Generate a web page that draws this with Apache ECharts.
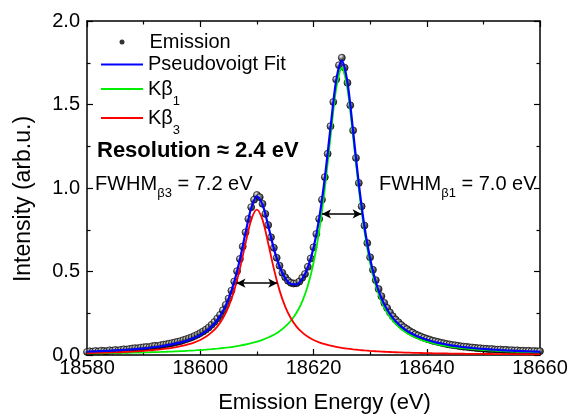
<!DOCTYPE html>
<html><head><meta charset="utf-8">
<script src="https://cdn.jsdelivr.net/npm/echarts@6/dist/echarts.min.js"></script>
<style>html,body{margin:0;padding:0;background:#fff}#chart{width:570px;height:415px}</style>
</head><body><div id="chart"></div>
<script>
// ---- data ----
const emissionStart = 18580, emissionStep = 0.5;
const emissionValues = [
  0.018,0.022,0.020,0.024,0.021,0.026,0.024,0.023,0.028,0.026,
  0.030,0.027,0.031,0.034,0.032,0.036,0.039,0.041,0.040,0.044,
  0.046,0.048,0.047,0.052,0.055,0.053,0.058,0.062,0.064,0.068,
  0.071,0.075,0.079,0.083,0.089,0.094,0.100,0.106,0.114,0.122,
  0.131,0.141,0.152,0.165,0.181,0.198,0.218,0.240,0.268,0.300,
  0.338,0.385,0.440,0.502,0.575,0.650,0.735,0.815,0.885,0.930,
  0.958,0.945,0.905,0.845,0.778,0.705,0.642,0.582,0.535,0.492,
  0.465,0.445,0.432,0.428,0.430,0.440,0.462,0.485,0.528,0.578,
  0.645,0.725,0.815,0.930,1.065,1.205,1.370,1.515,1.650,1.735,
  1.780,1.720,1.630,1.495,1.345,1.180,1.030,0.890,0.775,0.670,
  0.585,0.510,0.448,0.395,0.352,0.312,0.282,0.255,0.232,0.212,
  0.196,0.180,0.166,0.155,0.143,0.134,0.124,0.117,0.110,0.103,
  0.097,0.092,0.086,0.082,0.078,0.074,0.070,0.066,0.063,0.060,
  0.058,0.055,0.052,0.050,0.049,0.046,0.045,0.043,0.041,0.040,
  0.038,0.037,0.035,0.036,0.033,0.032,0.033,0.030,0.031,0.028,
  0.029,0.027,0.028,0.025,0.026,0.024,0.025,0.023,0.024,0.022,
  0.023
];
const curveStart = 18580, curveStep = 1;
const fitValues = [
  0.0204,0.0216,0.0229,0.0244,0.0259,0.0277,0.0296,0.0317,0.0341,0.0369,
  0.0399,0.0433,0.0473,0.0519,0.0572,0.0635,0.0708,0.0796,0.0903,0.1036,
  0.1198,0.1412,0.170,0.208,0.262,0.336,0.438,0.572,0.732,0.880,
  0.950,0.900,0.774,0.637,0.530,0.460,0.425,0.423,0.455,0.524,
  0.641,0.817,1.061,1.360,1.643,1.763,1.632,1.338,1.026,0.768,
  0.576,0.437,0.340,0.272,0.222,0.186,0.157,0.135,0.117,0.103,
  0.091,0.081,0.0727,0.0656,0.0595,0.0542,0.0496,0.0455,0.042,0.0388,
  0.0361,0.0336,0.0313,0.0292,0.0274,0.0258,0.0243,0.0229,0.0216,0.0204,
  0.0193
];
const kb1Values = [
  0.0093,0.0097,0.0102,0.0107,0.0112,0.0118,0.0124,0.0130,0.0137,0.0145,
  0.0153,0.0162,0.0172,0.0183,0.0195,0.0208,0.0222,0.0238,0.0256,0.0276,
  0.0298,0.0322,0.0350,0.0382,0.0418,0.0460,0.0508,0.0564,0.0629,0.0707,
  0.0799,0.0911,0.1046,0.1214,0.1425,0.170,0.205,0.253,0.320,0.415,
  0.551,0.741,0.996,1.304,1.594,1.720,1.594,1.304,0.996,0.741,
  0.551,0.415,0.320,0.253,0.205,0.170,0.1425,0.1214,0.1046,0.0911,
  0.0799,0.0707,0.0629,0.0564,0.0508,0.0460,0.0418,0.0382,0.0350,0.0322,
  0.0298,0.0276,0.0256,0.0238,0.0222,0.0208,0.0195,0.0183,0.0172,0.0162,
  0.0153
];
const kb3Values = [
  0.0111,0.0119,0.0127,0.0137,0.0147,0.0159,0.0172,0.0187,0.0204,0.0224,
  0.0246,0.0271,0.0301,0.0336,0.0377,0.0427,0.0486,0.0558,0.0647,0.076,
  0.090,0.109,0.135,0.170,0.220,0.290,0.387,0.516,0.669,0.809,
  0.870,0.809,0.669,0.516,0.387,0.290,0.220,0.170,0.135,0.109,
  0.090,0.076,0.0647,0.0558,0.0486,0.0427,0.0377,0.0336,0.0301,0.0271,
  0.0246,0.0224,0.0204,0.0187,0.0172,0.0159,0.0147,0.0137,0.0127,0.0119,
  0.0111,0.0104,0.0098,0.0092,0.0087,0.0082,0.0078,0.0073,0.0070,0.0066,
  0.0063,0.0060,0.0057,0.0054,0.0052,0.0050,0.0048,0.0046,0.0044,0.0042,
  0.0040
];
const fwhmCenters = [18610, 18625];
const fwhmWidths = [7.2, 7.0];
const fwhmHeights = [0.43, 0.845];
const seriesNames = ['Emission', 'Pseudovoigt Fit', 'Kβ1', 'Kβ3'];
const xRange = [18580, 18660], xInterval = 20;
const yRange = [0, 2], yInterval = 0.5;

// ---- chart ----
const FONT = '"Liberation Sans", Arial, Helvetica, sans-serif';
const emissionData = emissionValues.map((v, i) => [emissionStart + i * emissionStep, v]);
const toCurve = arr => arr.map((v, i) => [curveStart + i * curveStep, v]);

const chart = echarts.init(document.getElementById('chart'), null, {renderer: 'canvas'});

const axisLine = {show: true, onZero: false, lineStyle: {color: '#000', width: 1.5}};
const axisTick = {show: true, inside: true, length: 6, lineStyle: {color: '#000', width: 1.2}};
const minorTick = {show: true, splitNumber: 2, length: 3.5, lineStyle: {color: '#000', width: 1.2}};

function legendFormatter(name) {
  const m = name.match(/^(Kβ)(\d)$/);
  return m ? m[1] + '{sub|' + m[2] + '}' : name;
}
const legendTops = [32, 54.5, 79, 108];
const legends = seriesNames.map((n, i) => {
  const isDot = i === 0;
  return {
    data: [n],
    orient: 'vertical',
    left: isDot ? 119.5 : 101,
    top: legendTops[i],
    padding: 0,
    icon: isDot ? 'circle' : 'rect',
    itemWidth: isDot ? 5 : 42,
    itemHeight: isDot ? 5 : 2,
    selectedMode: false,
    formatter: legendFormatter,
    itemStyle: isDot ? {color: '#000', borderWidth: 0} : {borderWidth: 0},
    textStyle: {
      fontSize: 20, color: '#000', fontFamily: FONT,
      padding: isDot ? [0, 0, 0, 20] : 0,
      rich: {sub: {fontSize: 13, color: '#000', fontFamily: FONT, padding: [24, 0, 0, 0]}}
    }
  };
});

const arrowData = fwhmCenters.map((c, i) => [
  {coord: [c - fwhmWidths[i] / 2, fwhmHeights[i]]},
  {coord: [c + fwhmWidths[i] / 2, fwhmHeights[i]]}
]);

chart.setOption({
  animation: false,
  backgroundColor: '#fff',
  textStyle: {fontFamily: FONT},
  grid: {left: 87, right: 30, top: 21, bottom: 60, containLabel: false, outerBoundsMode: 'none'},
  legend: legends,
  xAxis: [
    {type: 'value', position: 'bottom', min: xRange[0], max: xRange[1], interval: xInterval,
     axisLine, axisTick, minorTick, splitLine: {show: false},
     axisLabel: {fontSize: 20, color: '#000', fontFamily: FONT, margin: 3, formatter: v => String(v)},
     name: 'Emission Energy (eV)', nameLocation: 'middle', nameGap: 37,
     nameTextStyle: {fontSize: 22, color: '#000', fontFamily: FONT, padding: [0, 0, 0, 22]}},
    {type: 'value', position: 'top', min: xRange[0], max: xRange[1], interval: xInterval,
     axisLine, axisTick, minorTick, splitLine: {show: false}, axisLabel: {show: false}}
  ],
  yAxis: [
    {type: 'value', position: 'left', min: yRange[0], max: yRange[1], interval: yInterval,
     axisLine, axisTick, minorTick, splitLine: {show: false},
     axisLabel: {fontSize: 20, color: '#000', fontFamily: FONT, margin: 7, formatter: v => v.toFixed(1)},
     name: 'Intensity (arb.u.)', nameLocation: 'middle', nameGap: 52,
     nameTextStyle: {fontSize: 23, color: '#000', fontFamily: FONT, padding: [0, 22, 0, 0]}},
    {type: 'value', position: 'right', min: yRange[0], max: yRange[1], interval: yInterval,
     axisLine, axisTick, minorTick, splitLine: {show: false}, axisLabel: {show: false}}
  ],
  series: [
    {name: seriesNames[0], type: 'scatter', data: emissionData, symbol: 'circle', symbolSize: 7, z: 2,
     itemStyle: {
       color: {type: 'radial', x: 0.38, y: 0.32, r: 0.7,
               colorStops: [{offset: 0, color: '#ffffff'}, {offset: 0.25, color: '#999999'},
                            {offset: 0.6, color: '#222222'}, {offset: 1, color: '#000000'}]},
       borderColor: '#000', borderWidth: 0.8
     }},
    {name: seriesNames[2], type: 'line', data: toCurve(kb1Values), showSymbol: false, symbol: 'none', smooth: 0.3, z: 3,
     color: '#00ee00', lineStyle: {color: '#00ee00', width: 1.8}},
    {name: seriesNames[3], type: 'line', data: toCurve(kb3Values), showSymbol: false, symbol: 'none', smooth: 0.3, z: 3,
     color: '#ff0000', lineStyle: {color: '#ff0000', width: 1.8},
     markLine: {silent: true, symbol: ['arrow', 'arrow'], symbolSize: [7, 9], label: {show: false},
                lineStyle: {color: '#000', width: 1.5, type: 'solid'}, emphasis: {disabled: true},
                data: arrowData}},
    {name: seriesNames[1], type: 'line', data: toCurve(fitValues), showSymbol: false, symbol: 'none', smooth: 0.3, z: 4,
     color: '#0000ff', lineStyle: {color: '#0000ff', width: 2.2}}
  ],
  graphic: [
    {type: 'text', left: 97, top: 140, z: 10,
     style: {text: 'Resolution ≈ 2.4 eV', font: 'bold 22px ' + FONT, fill: '#000'}},
    {type: 'text', left: 95, top: 174, z: 10,
     style: {text: 'FWHM{sub|β3} = 7.2 eV', font: '20px ' + FONT, fill: '#000',
             rich: {sub: {font: '13px ' + FONT, fill: '#000', padding: [18, 0, 0, 0]}}}},
    {type: 'text', left: 379, top: 174, z: 10,
     style: {text: 'FWHM{sub|β1} = 7.0 eV', font: '20px ' + FONT, fill: '#000',
             rich: {sub: {font: '13px ' + FONT, fill: '#000', padding: [18, 0, 0, 0]}}}}
  ]
});
</script>
</body></html>
